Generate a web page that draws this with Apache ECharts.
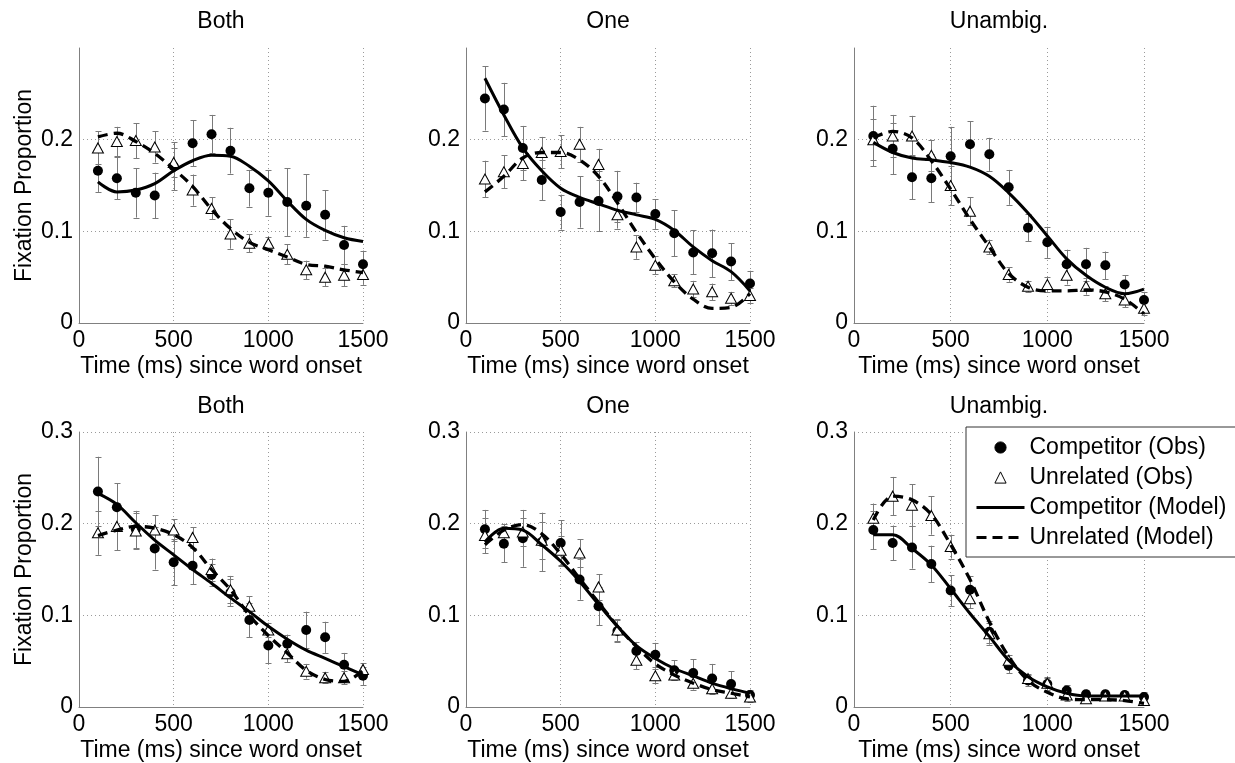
<!DOCTYPE html>
<html>
<head>
<meta charset="utf-8">
<script src="https://cdn.jsdelivr.net/npm/echarts@6/dist/echarts.min.js"></script>
<style>
html,body{margin:0;padding:0;background:#fff;}
#c{width:1235px;height:763px;}
</style>
</head>
<body>
<div id="c"></div>
<script>
// ---------- DATA ----------
const times = [100,200,300,400,500,600,700,800,900,1000,1100,1200,1300,1400,1500];
const xTicks = [0,500,1000,1500];
const yTicks = [0,0.1,0.2,0.3];
const panelTitles = ['Both','One','Unambig.','Both','One','Unambig.'];
const xName = 'Time (ms) since word onset';
const yName = 'Fixation Proportion';
const legendNames = ['Competitor (Obs)','Unrelated (Obs)','Competitor (Model)','Unrelated (Model)'];

// Top row — Both
const t1CompObs   = [0.166,0.158,0.142,0.139,0.171,0.196,0.206,0.188,0.147,0.142,0.132,0.128,0.118,0.085,0.064];
const t1CompErr   = [0.023,0.023,0.027,0.025,0.026,0.025,0.021,0.025,0.020,0.025,0.037,0.034,0.027,0.021,0.015];
const t1UnrObs    = [0.191,0.198,0.199,0.192,0.175,0.145,0.125,0.097,0.087,0.087,0.075,0.058,0.050,0.052,0.053];
const t1UnrErr    = [0.018,0.016,0.019,0.017,0.016,0.017,0.012,0.016,0.010,0.007,0.011,0.010,0.010,0.012,0.011];
const t1CompModel = [0.154,0.143,0.145,0.152,0.166,0.177,0.183,0.182,0.171,0.155,0.133,0.113,0.101,0.093,0.089];
const t1UnrModel  = [0.203,0.207,0.198,0.185,0.168,0.149,0.124,0.103,0.088,0.080,0.072,0.064,0.062,0.058,0.055];

// Top row — One
const t2CompObs   = [0.245,0.233,0.191,0.156,0.121,0.132,0.133,0.138,0.137,0.119,0.098,0.077,0.076,0.067,0.043];
const t2CompErr   = [0.035,0.029,0.024,0.022,0.019,0.028,0.033,0.028,0.016,0.016,0.025,0.024,0.026,0.020,0.014];
const t2UnrObs    = [0.157,0.165,0.174,0.186,0.187,0.195,0.173,0.118,0.083,0.063,0.046,0.037,0.034,0.027,0.030];
const t2UnrErr    = [0.020,0.018,0.018,0.017,0.018,0.019,0.017,0.015,0.013,0.010,0.007,0.009,0.009,0.007,0.008];
const t2CompModel = [0.267,0.227,0.191,0.166,0.147,0.137,0.130,0.123,0.118,0.113,0.101,0.083,0.068,0.056,0.035];
const t2UnrModel  = [0.143,0.160,0.180,0.186,0.186,0.178,0.160,0.131,0.099,0.070,0.045,0.026,0.016,0.017,0.032];

// Top row — Unambig.
const t3CompObs   = [0.204,0.190,0.159,0.158,0.182,0.195,0.184,0.148,0.104,0.088,0.064,0.064,0.063,0.042,0.025];
const t3CompErr   = [0.033,0.028,0.024,0.026,0.032,0.025,0.018,0.019,0.015,0.017,0.016,0.018,0.015,0.010,0.009];
const t3UnrObs    = [0.200,0.204,0.204,0.183,0.150,0.122,0.083,0.053,0.040,0.042,0.052,0.040,0.032,0.025,0.016];
const t3UnrErr    = [0.022,0.023,0.022,0.017,0.021,0.015,0.008,0.008,0.006,0.008,0.010,0.009,0.008,0.008,0.007];
const t3CompModel = [0.197,0.186,0.180,0.178,0.175,0.170,0.160,0.142,0.120,0.095,0.070,0.052,0.039,0.032,0.037];
const t3UnrModel  = [0.202,0.209,0.202,0.177,0.146,0.113,0.083,0.054,0.039,0.035,0.035,0.036,0.034,0.026,0.010];

// Bottom row — Both
const b1CompObs   = [0.235,0.218,0.194,0.173,0.158,0.154,0.144,0.125,0.095,0.067,0.069,0.084,0.076,0.046,0.034];
const b1CompErr   = [0.038,0.026,0.020,0.023,0.025,0.020,0.012,0.015,0.019,0.019,0.010,0.020,0.017,0.013,0.010];
const b1UnrObs    = [0.190,0.197,0.192,0.193,0.193,0.185,0.150,0.128,0.110,0.084,0.058,0.039,0.032,0.032,0.041];
const b1UnrErr    = [0.024,0.026,0.020,0.016,0.012,0.011,0.012,0.015,0.011,0.008,0.009,0.008,0.006,0.007,0.007];
const b1CompModel = [0.233,0.221,0.201,0.182,0.166,0.150,0.135,0.119,0.104,0.088,0.074,0.062,0.053,0.044,0.035];
const b1UnrModel  = [0.187,0.193,0.197,0.195,0.188,0.174,0.150,0.128,0.100,0.078,0.059,0.040,0.030,0.028,0.040];

// Bottom row — One
const b2CompObs   = [0.194,0.178,0.184,0.180,0.179,0.139,0.110,0.083,0.061,0.057,0.040,0.037,0.031,0.025,0.013];
const b2CompErr   = [0.021,0.020,0.031,0.032,0.025,0.022,0.021,0.012,0.010,0.013,0.011,0.015,0.016,0.014,0.006];
const b2UnrObs    = [0.187,0.190,0.191,0.182,0.171,0.168,0.131,0.084,0.051,0.034,0.035,0.026,0.020,0.015,0.011];
const b2UnrErr    = [0.019,0.010,0.015,0.020,0.016,0.015,0.014,0.012,0.010,0.008,0.006,0.007,0.006,0.005,0.005];
const b2CompModel = [0.180,0.195,0.193,0.177,0.159,0.137,0.112,0.088,0.067,0.053,0.042,0.034,0.026,0.020,0.015];
const b2UnrModel  = [0.177,0.193,0.199,0.189,0.167,0.140,0.114,0.088,0.066,0.047,0.035,0.026,0.019,0.015,0.011];

// Bottom row — Unambig.
const b3CompObs   = [0.193,0.179,0.174,0.156,0.127,0.128,0.082,0.045,0.029,0.025,0.018,0.014,0.014,0.013,0.011];
const b3CompErr   = [0.021,0.019,0.023,0.020,0.017,0.015,0.012,0.008,0.006,0.007,0.006,0.005,0.005,0.005,0.005];
const b3UnrObs    = [0.206,0.230,0.220,0.209,0.175,0.118,0.080,0.051,0.031,0.026,0.013,0.009,0.012,0.012,0.007];
const b3UnrErr    = [0.016,0.021,0.023,0.021,0.013,0.010,0.012,0.006,0.005,0.007,0.006,0.004,0.004,0.004,0.004];
const b3CompModel = [0.188,0.188,0.173,0.155,0.129,0.102,0.077,0.051,0.033,0.022,0.015,0.012,0.012,0.012,0.012];
const b3UnrModel  = [0.204,0.230,0.226,0.210,0.177,0.139,0.093,0.055,0.029,0.016,0.009,0.008,0.008,0.007,0.004];

// ---------- BUILD ----------
const panels = [
  [t1CompObs,t1CompErr,t1UnrObs,t1UnrErr,t1CompModel,t1UnrModel],
  [t2CompObs,t2CompErr,t2UnrObs,t2UnrErr,t2CompModel,t2UnrModel],
  [t3CompObs,t3CompErr,t3UnrObs,t3UnrErr,t3CompModel,t3UnrModel],
  [b1CompObs,b1CompErr,b1UnrObs,b1UnrErr,b1CompModel,b1UnrModel],
  [b2CompObs,b2CompErr,b2UnrObs,b2UnrErr,b2CompModel,b2UnrModel],
  [b3CompObs,b3CompErr,b3UnrObs,b3UnrErr,b3CompModel,b3UnrModel]
];

const FONT = '"Liberation Sans", Arial, Helvetica, sans-serif';
const FS = 23;
const colLeft = [79, 466, 854];
const colWidth = [284, 284, 290];
const rowTop = [48, 432];
const rowHeight = 275;
const titleTop = [10, 395];

const pairs = (ys) => times.map((t, i) => [t, ys[i]]);
const triples = (ys, es) => times.map((t, i) => [t, ys[i], es[i]]);

function errRender(params, api) {
  const x = api.value(0), y = api.value(1), e = api.value(2);
  const lo = api.coord([x, y - e]);
  const hi = api.coord([x, y + e]);
  const px = Math.round(lo[0]) + 0.5;
  const hw = 3;
  const style = { stroke: '#7a7a7a', lineWidth: 1 };
  return {
    type: 'group',
    children: [
      { type: 'line', shape: { x1: px, y1: lo[1], x2: px, y2: hi[1] }, style },
      { type: 'line', shape: { x1: px - hw, y1: Math.round(lo[1]) + 0.5, x2: px + hw, y2: Math.round(lo[1]) + 0.5 }, style },
      { type: 'line', shape: { x1: px - hw, y1: Math.round(hi[1]) + 0.5, x2: px + hw, y2: Math.round(hi[1]) + 0.5 }, style }
    ]
  };
}

const grids = [], xAxes = [], yAxes = [], titles = [], series = [];
const gridLineStyle = { color: '#9a9a9a', width: 1, type: [1, 3] };
const textBase = { color: '#000', fontSize: FS, fontFamily: FONT };

panels.forEach((p, i) => {
  const row = Math.floor(i / 3), col = i % 3;
  grids.push({ left: colLeft[col], top: rowTop[row], width: colWidth[col], height: rowHeight });
  xAxes.push({
    gridIndex: i, type: 'value',
    min: xTicks[0], max: xTicks[xTicks.length - 1], interval: xTicks[1] - xTicks[0],
    axisLine: { show: true, onZero: false, lineStyle: { color: '#808080', width: 1 } },
    axisTick: { show: false },
    axisLabel: Object.assign({ margin: 6, formatter: (v) => String(v) }, textBase),
    splitLine: { show: true, lineStyle: gridLineStyle },
    name: xName, nameLocation: 'middle', nameGap: 32,
    nameTextStyle: textBase
  });
  yAxes.push({
    gridIndex: i, type: 'value',
    min: yTicks[0], max: yTicks[yTicks.length - 1], interval: yTicks[1] - yTicks[0],
    axisLine: { show: true, lineStyle: { color: '#808080', width: 1 } },
    axisTick: { show: false },
    axisLabel: Object.assign({ margin: 6, showMaxLabel: row !== 0, formatter: (v) => String(+v.toFixed(2)) }, textBase),
    splitLine: { show: true, showMaxLine: row !== 0, lineStyle: gridLineStyle },
    name: col === 0 ? yName : '', nameLocation: 'middle', nameGap: 43,
    nameTextStyle: textBase
  });
  titles.push({
    text: panelTitles[i],
    left: colLeft[col] + colWidth[col] / 2, top: titleTop[row], textAlign: 'center',
    padding: 0,
    textStyle: { color: '#000', fontSize: FS, fontFamily: FONT, fontWeight: 'normal' }
  });

  const [cObs, cErr, uObs, uErr, cMod, uMod] = p;
  series.push({
    type: 'custom', xAxisIndex: i, yAxisIndex: i, z: 1, silent: true,
    renderItem: errRender, data: triples(cObs, cErr), encode: { x: 0, y: 1 }
  });
  series.push({
    type: 'custom', xAxisIndex: i, yAxisIndex: i, z: 1, silent: true,
    renderItem: errRender, data: triples(uObs, uErr), encode: { x: 0, y: 1 }
  });
  series.push({
    type: 'line', name: legendNames[0], xAxisIndex: i, yAxisIndex: i, z: 2,
    data: pairs(cObs), symbol: 'circle', symbolSize: 10, showSymbol: true,
    lineStyle: { width: 0, opacity: 0 },
    itemStyle: { color: '#000', borderColor: '#000', borderWidth: 0 }
  });
  series.push({
    type: 'line', name: legendNames[1], xAxisIndex: i, yAxisIndex: i, z: 2,
    data: pairs(uObs), symbol: 'triangle', symbolSize: [11, 10], showSymbol: true,
    lineStyle: { width: 0, opacity: 0 },
    itemStyle: { color: '#fff', borderColor: '#000', borderWidth: 1 }
  });
  series.push({
    type: 'line', name: legendNames[2], xAxisIndex: i, yAxisIndex: i, z: 3,
    data: pairs(cMod), symbol: 'none', smooth: 0.35,
    lineStyle: { color: '#000', width: 3, type: 'solid' },
    itemStyle: { color: 'rgba(0,0,0,0)' }
  });
  series.push({
    type: 'line', name: legendNames[3], xAxisIndex: i, yAxisIndex: i, z: 3,
    data: pairs(uMod), symbol: 'none', smooth: 0.35,
    lineStyle: { color: '#000', width: 3.3, type: [10, 6] },
    itemStyle: { color: 'rgba(0,0,0,0)' }
  });
});

const option = {
  animation: false,
  backgroundColor: '#fff',
  title: titles,
  grid: grids,
  xAxis: xAxes,
  yAxis: yAxes,
  legend: {
    data: legendNames,
    orient: 'vertical',
    left: 966, top: 427,
    padding: [9, 10, 8, 9],
    itemWidth: 48, itemHeight: 14, itemGap: 7,
    backgroundColor: '#fff',
    borderColor: '#333', borderWidth: 1, borderRadius: 0,
    selectedMode: false,
    itemStyle: { borderWidth: 1 },
    lineStyle: { width: 3 },
    textStyle: { color: '#000', fontSize: FS, fontFamily: FONT, lineHeight: 23 }
  },
  series: series
};

const chart = echarts.init(document.getElementById('c'), null, { renderer: 'canvas' });
chart.setOption(option);
</script>
</body>
</html>
